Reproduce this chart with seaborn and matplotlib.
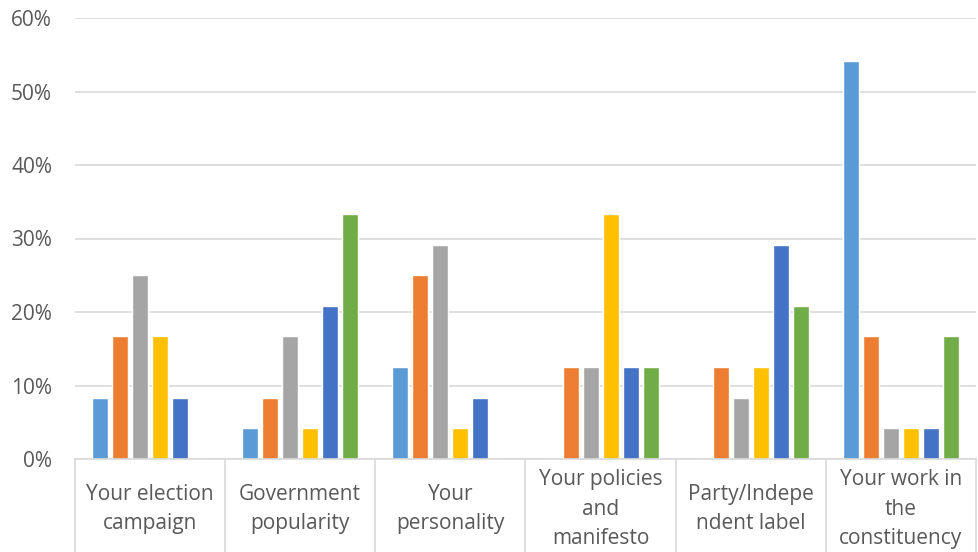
import matplotlib
matplotlib.use("Agg")
import matplotlib.pyplot as plt
import matplotlib.transforms as mtransforms
from matplotlib.ticker import PercentFormatter
import seaborn as sns
import pandas as pd

# Factors rated by respondents, share of answers per ranking position
categories = [
    "Your election campaign",
    "Government popularity",
    "Your personality",
    "Your policies and manifesto",
    "Party/Independent label",
    "Your work in the constituency",
]
category_labels = [
    "Your election\ncampaign",
    "Government\npopularity",
    "Your\npersonality",
    "Your policies\nand\nmanifesto",
    "Party/Indepe\nndent label",
    "Your work in\nthe\nconstituency",
]
series_names = ["1", "2", "3", "4", "5", "6"]

rank_1 = [8.33, 4.17, 12.5, 0.0, 0.0, 54.17]
rank_2 = [16.67, 8.33, 25.0, 12.5, 12.5, 16.67]
rank_3 = [25.0, 16.67, 29.17, 12.5, 8.33, 4.17]
rank_4 = [16.67, 4.17, 4.17, 33.33, 12.5, 4.17]
rank_5 = [8.33, 20.83, 8.33, 12.5, 29.17, 4.17]
rank_6 = [0.0, 33.33, 0.0, 12.5, 20.83, 16.67]

y_ticks = [0, 10, 20, 30, 40, 50, 60]

palette = ["#5B9BD5", "#ED7D31", "#A5A5A5", "#FFC000", "#4472C4", "#70AD47"]
text_color = "#595959"
line_color = "#D9D9D9"

rows = []
for name, values in zip(series_names, [rank_1, rank_2, rank_3, rank_4, rank_5, rank_6]):
    for cat, v in zip(categories, values):
        rows.append({"category": cat, "series": name, "value": v})
df = pd.DataFrame(rows)

sns.set_theme(style="white")
plt.rcParams["font.family"] = ["Open Sans", "DejaVu Sans"]

fig = plt.figure(figsize=(9.79, 5.52), dpi=100)
ax = fig.add_axes([75 / 979, 1 - 459 / 552, 901 / 979, 441 / 552])

sns.barplot(
    data=df, x="category", y="value", hue="series", order=categories,
    hue_order=series_names, palette=palette, width=0.8, gap=0.2,
    saturation=1, legend=False, ax=ax,
)

ax.set_ylim(0, 60)
ax.set_xlim(-0.5, len(categories) - 0.5)
ax.set_yticks(y_ticks)
ax.yaxis.set_major_formatter(PercentFormatter(decimals=0))
ax.grid(axis="y", color=line_color, linewidth=1.2)
ax.set_axisbelow(True)
for side in ["top", "right", "left"]:
    ax.spines[side].set_visible(False)
ax.spines["bottom"].set_color(line_color)
ax.spines["bottom"].set_linewidth(1.2)
ax.tick_params(axis="y", length=0, pad=16.5, labelsize=15, labelcolor=text_color)
ax.set_xticks([])
ax.set_xlabel("")
ax.set_ylabel("")

# Category boxes below the axis
trans = mtransforms.blended_transform_factory(ax.transData, ax.transAxes)
for i in range(len(categories) + 1):
    ax.plot([i - 0.5, i - 0.5], [0, -0.3], transform=trans, color=line_color,
            linewidth=1.2, clip_on=False)
for i, label in enumerate(category_labels):
    ax.text(i, -0.114, label, transform=trans, ha="center", va="center",
            fontsize=15, color=text_color, linespacing=1.52)

fig.savefig("out.png", dpi=100)
